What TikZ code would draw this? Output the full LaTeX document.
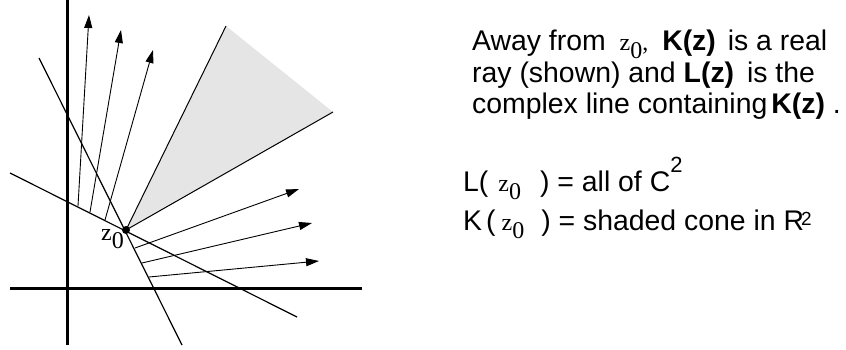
\documentclass[tikz,border=0pt]{standalone}
\usepackage{fontspec}
\setmainfont{Liberation Sans}
\newfontfamily\zfont{Liberation Serif}
\usetikzlibrary{arrows.meta}
\newcommand{\zo}{{\zfont\fontsize{24}{24}\selectfont z\raisebox{-8pt}{0}}}
\newcommand{\zcomma}{{\zfont\fontsize{24}{24}\selectfont ,}}
\begin{document}
\begin{tikzpicture}[x=1pt,y=-1pt,
    axis/.style={line width=3pt},
    cline/.style={line width=1.2pt},
    ray/.style={line width=0.9pt,-{Triangle[length=13pt,width=8pt]}},
    txt/.style={anchor=base west,inner sep=0pt,font=\fontsize{28.4}{28.4}\selectfont}]
  \useasboundingbox (0,0) rectangle (846,349);
  \coordinate (Z) at (126,230);
  % shaded cone
  \coordinate (C1) at (226,26);
  \coordinate (C2) at (333,112);
  \fill[black!10] (Z) -- (C1) -- (C2) -- cycle;
  \draw[line width=1pt] (C1) -- (Z) -- (C2);
  % axes
  \draw[axis] (67.5,0) -- (67.5,345);
  \draw[axis] (10,288) -- (362,288);
  % two real lines through z0
  \coordinate (A1) at (39,58);
  \coordinate (A2) at (182,345);
  \coordinate (B1) at (10,173);
  \coordinate (B2) at (297,317);
  \draw[cline] (A1) -- (A2);
  \draw[cline] (B1) -- (B2);
  % rays
  \draw[ray] (78,206) -- (89,15);
  \draw[ray] (90,212) -- (121,30);
  \draw[ray] (105,220) -- (153,50);
  \draw[ray] (135,248) -- (299,189);
  \draw[ray] (142,263) -- (312,223);
  \draw[ray] (149,277) -- (319,261);
  \fill (Z) circle (4pt);
  \node[anchor=base west,inner sep=0pt] (zlab) at (101,240) {\zo};
  % text
  \node[txt] (txtA) at (472,50) {Away from \kern6pt\zo\zcomma\kern6pt{} \textbf{K(z)}\kern4pt{} is a real};
  \node[txt] (txtB) at (472,82) {ray (shown) and \textbf{L(z)}\kern5pt{} is the};
  \node[txt] (txtC) at (472,113) {complex line containing\kern4pt\textbf{K(z)} .};
  \node[txt] (txtL) at (463,191) {L(\kern10pt\zo\kern19pt) = all of C\raisebox{19pt}{\fontsize{22}{22}\selectfont 2}};
  \node[txt] (txtK) at (463,230) {K\kern4pt(\kern6pt\zo\kern17pt) = shaded cone in R\kern-3pt\raisebox{5pt}{\fontsize{19}{19}\selectfont 2}};
\end{tikzpicture}
\end{document}
